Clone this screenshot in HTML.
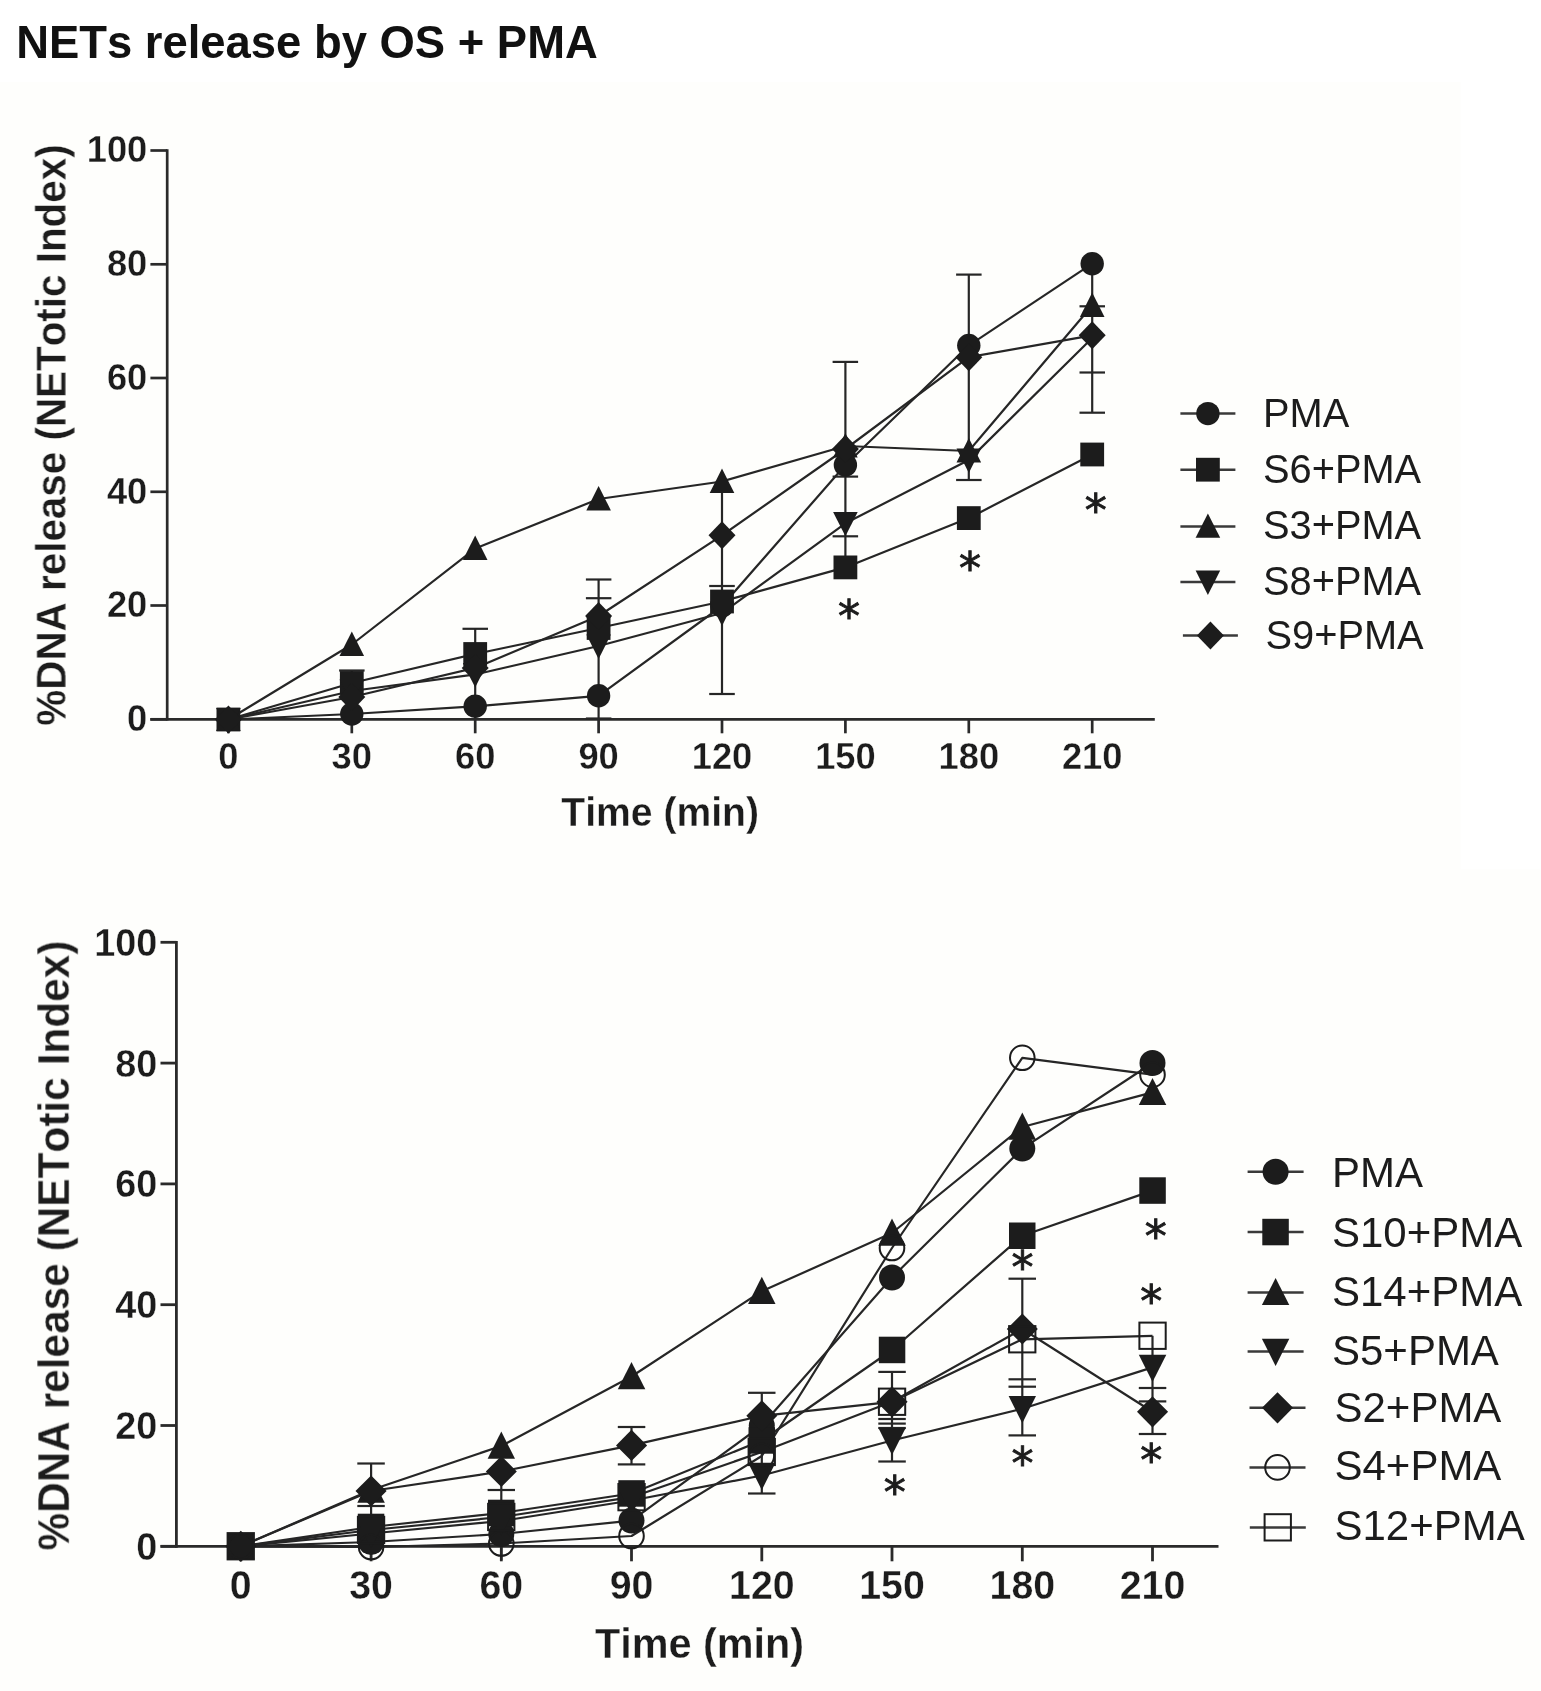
<!DOCTYPE html>
<html lang="en">
<head>
<meta charset="utf-8">
<title>NETs release by OS + PMA</title>
<style>
html, body { margin: 0; padding: 0; background: #ffffff; }
body { width: 1541px; height: 1691px; overflow: hidden; position: relative;
       font-family: "Liberation Sans", sans-serif; }
svg { position: absolute; left: 0; top: 0; display: block; }
#chart-top, #chart-bottom { filter: blur(0.62px); }
#title { filter: blur(0.4px); }
svg text { white-space: pre; font-kerning: none; }
</style>
</head>
<body>
<svg width="1541" height="1691" viewBox="0 0 1541 1691">
<rect x="0" y="0" width="1541" height="1691" fill="#ffffff"/>
<rect x="0" y="82" width="1460.5" height="788" fill="#fefefc"/>
<rect x="0" y="869.5" width="1540.5" height="821.5" fill="#fefefc"/>
<g id="title">
<text transform="translate(16.2 57.5) scale(1 1.03)" font-family='"Liberation Sans", sans-serif' font-size="45.4" font-weight="bold" text-anchor="start" fill="#111111">NETs release by OS + PMA</text>
</g>
<g id="chart-top">
<line x1="167.2" y1="149.2" x2="167.2" y2="720.6" stroke="#2a2a2a" stroke-width="2.7"/>
<line x1="150.3" y1="719.3" x2="1154.8" y2="719.3" stroke="#2a2a2a" stroke-width="2.7"/>
<line x1="150.4" y1="719.3" x2="167.2" y2="719.3" stroke="#2a2a2a" stroke-width="2.7"/>
<text transform="translate(147.3 731.1) scale(1 1.03)" font-family='"Liberation Sans", sans-serif' font-size="36.3" font-weight="bold" text-anchor="end" fill="#1c1c1c" stroke="#fefefc" stroke-width="0.3" stroke-linejoin="round">0</text>
<line x1="150.4" y1="605.5" x2="167.2" y2="605.5" stroke="#2a2a2a" stroke-width="2.7"/>
<text transform="translate(147.3 617.3) scale(1 1.03)" font-family='"Liberation Sans", sans-serif' font-size="36.3" font-weight="bold" text-anchor="end" fill="#1c1c1c" stroke="#fefefc" stroke-width="0.3" stroke-linejoin="round">20</text>
<line x1="150.4" y1="491.8" x2="167.2" y2="491.8" stroke="#2a2a2a" stroke-width="2.7"/>
<text transform="translate(147.3 503.6) scale(1 1.03)" font-family='"Liberation Sans", sans-serif' font-size="36.3" font-weight="bold" text-anchor="end" fill="#1c1c1c" stroke="#fefefc" stroke-width="0.3" stroke-linejoin="round">40</text>
<line x1="150.4" y1="378" x2="167.2" y2="378" stroke="#2a2a2a" stroke-width="2.7"/>
<text transform="translate(147.3 389.8) scale(1 1.03)" font-family='"Liberation Sans", sans-serif' font-size="36.3" font-weight="bold" text-anchor="end" fill="#1c1c1c" stroke="#fefefc" stroke-width="0.3" stroke-linejoin="round">60</text>
<line x1="150.4" y1="264.3" x2="167.2" y2="264.3" stroke="#2a2a2a" stroke-width="2.7"/>
<text transform="translate(147.3 276.1) scale(1 1.03)" font-family='"Liberation Sans", sans-serif' font-size="36.3" font-weight="bold" text-anchor="end" fill="#1c1c1c" stroke="#fefefc" stroke-width="0.3" stroke-linejoin="round">80</text>
<line x1="150.4" y1="150.5" x2="167.2" y2="150.5" stroke="#2a2a2a" stroke-width="2.7"/>
<text transform="translate(147.3 162.3) scale(1 1.03)" font-family='"Liberation Sans", sans-serif' font-size="36.3" font-weight="bold" text-anchor="end" fill="#1c1c1c" stroke="#fefefc" stroke-width="0.3" stroke-linejoin="round">100</text>
<line x1="228.4" y1="719.3" x2="228.4" y2="733.3" stroke="#2a2a2a" stroke-width="2.7"/>
<text transform="translate(228.4 768.6) scale(1 1.03)" font-family='"Liberation Sans", sans-serif' font-size="36.3" font-weight="bold" text-anchor="middle" fill="#1c1c1c" stroke="#fefefc" stroke-width="0.3" stroke-linejoin="round">0</text>
<line x1="351.8" y1="719.3" x2="351.8" y2="733.3" stroke="#2a2a2a" stroke-width="2.7"/>
<text transform="translate(351.8 768.6) scale(1 1.03)" font-family='"Liberation Sans", sans-serif' font-size="36.3" font-weight="bold" text-anchor="middle" fill="#1c1c1c" stroke="#fefefc" stroke-width="0.3" stroke-linejoin="round">30</text>
<line x1="475.2" y1="719.3" x2="475.2" y2="733.3" stroke="#2a2a2a" stroke-width="2.7"/>
<text transform="translate(475.2 768.6) scale(1 1.03)" font-family='"Liberation Sans", sans-serif' font-size="36.3" font-weight="bold" text-anchor="middle" fill="#1c1c1c" stroke="#fefefc" stroke-width="0.3" stroke-linejoin="round">60</text>
<line x1="598.6" y1="719.3" x2="598.6" y2="733.3" stroke="#2a2a2a" stroke-width="2.7"/>
<text transform="translate(598.6 768.6) scale(1 1.03)" font-family='"Liberation Sans", sans-serif' font-size="36.3" font-weight="bold" text-anchor="middle" fill="#1c1c1c" stroke="#fefefc" stroke-width="0.3" stroke-linejoin="round">90</text>
<line x1="722" y1="719.3" x2="722" y2="733.3" stroke="#2a2a2a" stroke-width="2.7"/>
<text transform="translate(722 768.6) scale(1 1.03)" font-family='"Liberation Sans", sans-serif' font-size="36.3" font-weight="bold" text-anchor="middle" fill="#1c1c1c" stroke="#fefefc" stroke-width="0.3" stroke-linejoin="round">120</text>
<line x1="845.4" y1="719.3" x2="845.4" y2="733.3" stroke="#2a2a2a" stroke-width="2.7"/>
<text transform="translate(845.4 768.6) scale(1 1.03)" font-family='"Liberation Sans", sans-serif' font-size="36.3" font-weight="bold" text-anchor="middle" fill="#1c1c1c" stroke="#fefefc" stroke-width="0.3" stroke-linejoin="round">150</text>
<line x1="968.8" y1="719.3" x2="968.8" y2="733.3" stroke="#2a2a2a" stroke-width="2.7"/>
<text transform="translate(968.8 768.6) scale(1 1.03)" font-family='"Liberation Sans", sans-serif' font-size="36.3" font-weight="bold" text-anchor="middle" fill="#1c1c1c" stroke="#fefefc" stroke-width="0.3" stroke-linejoin="round">180</text>
<line x1="1092.2" y1="719.3" x2="1092.2" y2="733.3" stroke="#2a2a2a" stroke-width="2.7"/>
<text transform="translate(1092.2 768.6) scale(1 1.03)" font-family='"Liberation Sans", sans-serif' font-size="36.3" font-weight="bold" text-anchor="middle" fill="#1c1c1c" stroke="#fefefc" stroke-width="0.3" stroke-linejoin="round">210</text>
<text transform="translate(660.2 826.2) scale(1 1.03)" font-family='"Liberation Sans", sans-serif' font-size="39.1" font-weight="bold" text-anchor="middle" fill="#1c1c1c" stroke="#fefefc" stroke-width="0.3" stroke-linejoin="round">Time (min)</text>
<text transform="translate(65.8 435) rotate(-90) scale(1 1.03)" font-family='"Liberation Sans", sans-serif' font-size="40.4" font-weight="bold" text-anchor="middle" fill="#1c1c1c" stroke="#fefefc" stroke-width="0.3" stroke-linejoin="round">%DNA release (NETotic Index)</text>
<polyline points="228.4,719.5 351.8,714 475.2,706.3 598.6,695.8 722,606 845.4,465 968.8,345.5 1092.2,263.7" fill="none" stroke="#262626" stroke-width="2.2" stroke-linejoin="round"/>
<polyline points="228.4,719.5 351.8,683 475.2,654 598.6,628 722,601.5 845.4,567.4 968.8,518.1 1092.2,454.5" fill="none" stroke="#262626" stroke-width="2.2" stroke-linejoin="round"/>
<polyline points="228.4,719.5 351.8,644.5 475.2,548.5 598.6,499 722,481.5 845.4,446 968.8,451 1092.2,305.5" fill="none" stroke="#262626" stroke-width="2.2" stroke-linejoin="round"/>
<polyline points="228.4,719.5 351.8,691 475.2,674.5 598.6,646 722,613 845.4,523.3 968.8,460 1092.2,338" fill="none" stroke="#262626" stroke-width="2.2" stroke-linejoin="round"/>
<polyline points="228.4,719.5 351.8,697 475.2,668 598.6,616 722,535.3 845.4,449 968.8,357.2 1092.2,335.3" fill="none" stroke="#262626" stroke-width="2.2" stroke-linejoin="round"/>
<line x1="351.8" y1="670.5" x2="351.8" y2="700" stroke="#262626" stroke-width="2.2"/>
<line x1="339.1" y1="670.5" x2="364.6" y2="670.5" stroke="#262626" stroke-width="2.2"/>
<line x1="475.2" y1="628.8" x2="475.2" y2="719" stroke="#262626" stroke-width="2.2"/>
<line x1="462.5" y1="628.8" x2="488" y2="628.8" stroke="#262626" stroke-width="2.2"/>
<line x1="598.6" y1="579.5" x2="598.6" y2="718.5" stroke="#262626" stroke-width="2.2"/>
<line x1="585.9" y1="579.5" x2="611.4" y2="579.5" stroke="#262626" stroke-width="2.2"/>
<line x1="585.9" y1="598.2" x2="611.4" y2="598.2" stroke="#262626" stroke-width="2.2"/>
<line x1="585.9" y1="718.5" x2="611.4" y2="718.5" stroke="#262626" stroke-width="2.2"/>
<line x1="722" y1="485" x2="722" y2="694" stroke="#262626" stroke-width="2.2"/>
<line x1="709.2" y1="586" x2="734.8" y2="586" stroke="#262626" stroke-width="2.2"/>
<line x1="709.2" y1="694" x2="734.8" y2="694" stroke="#262626" stroke-width="2.2"/>
<line x1="845.4" y1="361.9" x2="845.4" y2="567" stroke="#262626" stroke-width="2.2"/>
<line x1="832.6" y1="361.9" x2="858.1" y2="361.9" stroke="#262626" stroke-width="2.2"/>
<line x1="832.6" y1="476.6" x2="858.1" y2="476.6" stroke="#262626" stroke-width="2.2"/>
<line x1="832.6" y1="536.3" x2="858.1" y2="536.3" stroke="#262626" stroke-width="2.2"/>
<line x1="968.8" y1="274.6" x2="968.8" y2="480" stroke="#262626" stroke-width="2.2"/>
<line x1="956.1" y1="274.6" x2="981.6" y2="274.6" stroke="#262626" stroke-width="2.2"/>
<line x1="956.1" y1="480" x2="981.6" y2="480" stroke="#262626" stroke-width="2.2"/>
<line x1="1092.2" y1="263.7" x2="1092.2" y2="412.7" stroke="#262626" stroke-width="2.2"/>
<line x1="1079.5" y1="306.3" x2="1105" y2="306.3" stroke="#262626" stroke-width="2.2"/>
<line x1="1079.5" y1="372.5" x2="1105" y2="372.5" stroke="#262626" stroke-width="2.2"/>
<line x1="1079.5" y1="412.7" x2="1105" y2="412.7" stroke="#262626" stroke-width="2.2"/>
<circle cx="228.4" cy="719.5" r="11.7" fill="#1c1c1c"/>
<circle cx="351.8" cy="714" r="11.7" fill="#1c1c1c"/>
<circle cx="475.2" cy="706.3" r="11.7" fill="#1c1c1c"/>
<circle cx="598.6" cy="695.8" r="11.7" fill="#1c1c1c"/>
<circle cx="722" cy="606" r="11.7" fill="#1c1c1c"/>
<circle cx="845.4" cy="465" r="11.7" fill="#1c1c1c"/>
<circle cx="968.8" cy="345.5" r="11.7" fill="#1c1c1c"/>
<circle cx="1092.2" cy="263.7" r="11.7" fill="#1c1c1c"/>
<rect x="216.5" y="707.6" width="23.8" height="23.8" fill="#1c1c1c"/>
<rect x="339.9" y="671.1" width="23.8" height="23.8" fill="#1c1c1c"/>
<rect x="463.3" y="642.1" width="23.8" height="23.8" fill="#1c1c1c"/>
<rect x="586.7" y="616.1" width="23.8" height="23.8" fill="#1c1c1c"/>
<rect x="710.1" y="589.6" width="23.8" height="23.8" fill="#1c1c1c"/>
<rect x="833.5" y="555.5" width="23.8" height="23.8" fill="#1c1c1c"/>
<rect x="956.9" y="506.2" width="23.8" height="23.8" fill="#1c1c1c"/>
<rect x="1080.3" y="442.6" width="23.8" height="23.8" fill="#1c1c1c"/>
<polygon points="228.4,706.5 240.7,730.9 216.1,730.9" fill="#1c1c1c"/>
<polygon points="351.8,631.5 364.1,655.9 339.5,655.9" fill="#1c1c1c"/>
<polygon points="475.2,535.5 487.5,559.9 462.9,559.9" fill="#1c1c1c"/>
<polygon points="598.6,486 610.9,510.4 586.3,510.4" fill="#1c1c1c"/>
<polygon points="722,468.5 734.3,492.9 709.7,492.9" fill="#1c1c1c"/>
<polygon points="845.4,433 857.7,457.4 833.1,457.4" fill="#1c1c1c"/>
<polygon points="968.8,438 981.1,462.4 956.5,462.4" fill="#1c1c1c"/>
<polygon points="1092.2,292.5 1104.5,316.9 1079.9,316.9" fill="#1c1c1c"/>
<polygon points="228.4,732.5 240.7,708.1 216.1,708.1" fill="#1c1c1c"/>
<polygon points="351.8,704 364.1,679.6 339.5,679.6" fill="#1c1c1c"/>
<polygon points="475.2,687.5 487.5,663.1 462.9,663.1" fill="#1c1c1c"/>
<polygon points="598.6,659 610.9,634.6 586.3,634.6" fill="#1c1c1c"/>
<polygon points="722,626 734.3,601.6 709.7,601.6" fill="#1c1c1c"/>
<polygon points="845.4,536.3 857.7,511.9 833.1,511.9" fill="#1c1c1c"/>
<polygon points="968.8,473 981.1,448.6 956.5,448.6" fill="#1c1c1c"/>
<polygon points="228.4,705.5 241.9,719.5 228.4,733.5 214.9,719.5" fill="#1c1c1c"/>
<polygon points="351.8,683 365.3,697 351.8,711 338.3,697" fill="#1c1c1c"/>
<polygon points="475.2,654 488.7,668 475.2,682 461.7,668" fill="#1c1c1c"/>
<polygon points="598.6,602 612.1,616 598.6,630 585.1,616" fill="#1c1c1c"/>
<polygon points="722,521.3 735.5,535.3 722,549.3 708.5,535.3" fill="#1c1c1c"/>
<polygon points="845.4,435 858.9,449 845.4,463 831.9,449" fill="#1c1c1c"/>
<polygon points="968.8,343.2 982.3,357.2 968.8,371.2 955.3,357.2" fill="#1c1c1c"/>
<polygon points="1092.2,321.3 1105.7,335.3 1092.2,349.3 1078.7,335.3" fill="#1c1c1c"/>
<text transform="translate(849 632.4) scale(1 1)" font-family='"DejaVu Sans", sans-serif' font-size="44" text-anchor="middle" fill="#1c1c1c" stroke="#1c1c1c" stroke-width="0.9">*</text>
<text transform="translate(969.9 583.8) scale(1 1)" font-family='"DejaVu Sans", sans-serif' font-size="44" text-anchor="middle" fill="#1c1c1c" stroke="#1c1c1c" stroke-width="0.9">*</text>
<text transform="translate(1095.7 526) scale(1 1)" font-family='"DejaVu Sans", sans-serif' font-size="44" text-anchor="middle" fill="#1c1c1c" stroke="#1c1c1c" stroke-width="0.9">*</text>
<line x1="1180.4" y1="413.6" x2="1235.4" y2="413.6" stroke="#3a3a3a" stroke-width="2.5"/>
<circle cx="1207.9" cy="413.6" r="11.7" fill="#1c1c1c"/>
<text transform="translate(1263 427.1) scale(1 1.03)" font-family='"Liberation Sans", sans-serif' font-size="39.8" text-anchor="start" fill="#1c1c1c">PMA</text>
<line x1="1180.4" y1="469.7" x2="1235.4" y2="469.7" stroke="#3a3a3a" stroke-width="2.5"/>
<rect x="1196" y="457.8" width="23.8" height="23.8" fill="#1c1c1c"/>
<text transform="translate(1263 482.9) scale(1 1.03)" font-family='"Liberation Sans", sans-serif' font-size="39.8" text-anchor="start" fill="#1c1c1c">S6+PMA</text>
<line x1="1180.4" y1="526.4" x2="1235.4" y2="526.4" stroke="#3a3a3a" stroke-width="2.5"/>
<polygon points="1207.9,513.4 1220.2,537.8 1195.6,537.8" fill="#1c1c1c"/>
<text transform="translate(1263 538.7) scale(1 1.03)" font-family='"Liberation Sans", sans-serif' font-size="39.8" text-anchor="start" fill="#1c1c1c">S3+PMA</text>
<line x1="1180.4" y1="582" x2="1235.4" y2="582" stroke="#3a3a3a" stroke-width="2.5"/>
<polygon points="1207.9,595 1220.2,570.6 1195.6,570.6" fill="#1c1c1c"/>
<text transform="translate(1263 594.6) scale(1 1.03)" font-family='"Liberation Sans", sans-serif' font-size="39.8" text-anchor="start" fill="#1c1c1c">S8+PMA</text>
<line x1="1182.9" y1="635.4" x2="1237.9" y2="635.4" stroke="#3a3a3a" stroke-width="2.5"/>
<polygon points="1210.4,621.4 1223.9,635.4 1210.4,649.4 1196.9,635.4" fill="#1c1c1c"/>
<text transform="translate(1265.5 648.6) scale(1 1.03)" font-family='"Liberation Sans", sans-serif' font-size="39.8" text-anchor="start" fill="#1c1c1c">S9+PMA</text>
</g>
<g id="chart-bottom">
<line x1="176.4" y1="941" x2="176.4" y2="1547.7" stroke="#2a2a2a" stroke-width="2.8"/>
<line x1="160.5" y1="1546.3" x2="1218.5" y2="1546.3" stroke="#2a2a2a" stroke-width="2.8"/>
<line x1="160.5" y1="1546.3" x2="176.4" y2="1546.3" stroke="#2a2a2a" stroke-width="2.8"/>
<text transform="translate(157.3 1559.7) scale(1 1.03)" font-family='"Liberation Sans", sans-serif' font-size="37.8" font-weight="bold" text-anchor="end" fill="#1c1c1c" stroke="#fefefc" stroke-width="0.3" stroke-linejoin="round">0</text>
<line x1="160.5" y1="1425.5" x2="176.4" y2="1425.5" stroke="#2a2a2a" stroke-width="2.8"/>
<text transform="translate(157.3 1438.9) scale(1 1.03)" font-family='"Liberation Sans", sans-serif' font-size="37.8" font-weight="bold" text-anchor="end" fill="#1c1c1c" stroke="#fefefc" stroke-width="0.3" stroke-linejoin="round">20</text>
<line x1="160.5" y1="1304.7" x2="176.4" y2="1304.7" stroke="#2a2a2a" stroke-width="2.8"/>
<text transform="translate(157.3 1318.1) scale(1 1.03)" font-family='"Liberation Sans", sans-serif' font-size="37.8" font-weight="bold" text-anchor="end" fill="#1c1c1c" stroke="#fefefc" stroke-width="0.3" stroke-linejoin="round">40</text>
<line x1="160.5" y1="1183.9" x2="176.4" y2="1183.9" stroke="#2a2a2a" stroke-width="2.8"/>
<text transform="translate(157.3 1197.3) scale(1 1.03)" font-family='"Liberation Sans", sans-serif' font-size="37.8" font-weight="bold" text-anchor="end" fill="#1c1c1c" stroke="#fefefc" stroke-width="0.3" stroke-linejoin="round">60</text>
<line x1="160.5" y1="1063.1" x2="176.4" y2="1063.1" stroke="#2a2a2a" stroke-width="2.8"/>
<text transform="translate(157.3 1076.5) scale(1 1.03)" font-family='"Liberation Sans", sans-serif' font-size="37.8" font-weight="bold" text-anchor="end" fill="#1c1c1c" stroke="#fefefc" stroke-width="0.3" stroke-linejoin="round">80</text>
<line x1="160.5" y1="942.3" x2="176.4" y2="942.3" stroke="#2a2a2a" stroke-width="2.8"/>
<text transform="translate(157.3 955.7) scale(1 1.03)" font-family='"Liberation Sans", sans-serif' font-size="37.8" font-weight="bold" text-anchor="end" fill="#1c1c1c" stroke="#fefefc" stroke-width="0.3" stroke-linejoin="round">100</text>
<line x1="240.8" y1="1546.3" x2="240.8" y2="1561.3" stroke="#2a2a2a" stroke-width="2.8"/>
<text transform="translate(240.8 1599) scale(1 1.03)" font-family='"Liberation Sans", sans-serif' font-size="39.3" font-weight="bold" text-anchor="middle" fill="#1c1c1c" stroke="#fefefc" stroke-width="0.3" stroke-linejoin="round">0</text>
<line x1="371.1" y1="1546.3" x2="371.1" y2="1561.3" stroke="#2a2a2a" stroke-width="2.8"/>
<text transform="translate(371.1 1599) scale(1 1.03)" font-family='"Liberation Sans", sans-serif' font-size="39.3" font-weight="bold" text-anchor="middle" fill="#1c1c1c" stroke="#fefefc" stroke-width="0.3" stroke-linejoin="round">30</text>
<line x1="501.3" y1="1546.3" x2="501.3" y2="1561.3" stroke="#2a2a2a" stroke-width="2.8"/>
<text transform="translate(501.3 1599) scale(1 1.03)" font-family='"Liberation Sans", sans-serif' font-size="39.3" font-weight="bold" text-anchor="middle" fill="#1c1c1c" stroke="#fefefc" stroke-width="0.3" stroke-linejoin="round">60</text>
<line x1="631.5" y1="1546.3" x2="631.5" y2="1561.3" stroke="#2a2a2a" stroke-width="2.8"/>
<text transform="translate(631.5 1599) scale(1 1.03)" font-family='"Liberation Sans", sans-serif' font-size="39.3" font-weight="bold" text-anchor="middle" fill="#1c1c1c" stroke="#fefefc" stroke-width="0.3" stroke-linejoin="round">90</text>
<line x1="761.8" y1="1546.3" x2="761.8" y2="1561.3" stroke="#2a2a2a" stroke-width="2.8"/>
<text transform="translate(761.8 1599) scale(1 1.03)" font-family='"Liberation Sans", sans-serif' font-size="39.3" font-weight="bold" text-anchor="middle" fill="#1c1c1c" stroke="#fefefc" stroke-width="0.3" stroke-linejoin="round">120</text>
<line x1="892" y1="1546.3" x2="892" y2="1561.3" stroke="#2a2a2a" stroke-width="2.8"/>
<text transform="translate(892 1599) scale(1 1.03)" font-family='"Liberation Sans", sans-serif' font-size="39.3" font-weight="bold" text-anchor="middle" fill="#1c1c1c" stroke="#fefefc" stroke-width="0.3" stroke-linejoin="round">150</text>
<line x1="1022.3" y1="1546.3" x2="1022.3" y2="1561.3" stroke="#2a2a2a" stroke-width="2.8"/>
<text transform="translate(1022.3 1599) scale(1 1.03)" font-family='"Liberation Sans", sans-serif' font-size="39.3" font-weight="bold" text-anchor="middle" fill="#1c1c1c" stroke="#fefefc" stroke-width="0.3" stroke-linejoin="round">180</text>
<line x1="1152.5" y1="1546.3" x2="1152.5" y2="1561.3" stroke="#2a2a2a" stroke-width="2.8"/>
<text transform="translate(1152.5 1599) scale(1 1.03)" font-family='"Liberation Sans", sans-serif' font-size="39.3" font-weight="bold" text-anchor="middle" fill="#1c1c1c" stroke="#fefefc" stroke-width="0.3" stroke-linejoin="round">210</text>
<text transform="translate(699.5 1658.2) scale(1 1.03)" font-family='"Liberation Sans", sans-serif' font-size="41.4" font-weight="bold" text-anchor="middle" fill="#1c1c1c" stroke="#fefefc" stroke-width="0.3" stroke-linejoin="round">Time (min)</text>
<text transform="translate(69.3 1245.6) rotate(-90) scale(1 1.03)" font-family='"Liberation Sans", sans-serif' font-size="42.4" font-weight="bold" text-anchor="middle" fill="#1c1c1c" stroke="#fefefc" stroke-width="0.3" stroke-linejoin="round">%DNA release (NETotic Index)</text>
<polyline points="240.8,1546.3 371.1,1542 501.3,1534 631.5,1520.6 761.8,1425.5 892,1277.5 1022.3,1148.6 1152.5,1063" fill="none" stroke="#262626" stroke-width="2.2" stroke-linejoin="round"/>
<polyline points="240.8,1546.3 371.1,1527 501.3,1513 631.5,1493.5 761.8,1440.5 892,1350 1022.3,1235.8 1152.5,1190.6" fill="none" stroke="#262626" stroke-width="2.2" stroke-linejoin="round"/>
<polyline points="240.8,1546.3 371.1,1490 501.3,1446 631.5,1376.5 761.8,1291.2 892,1233 1022.3,1127 1152.5,1092.4" fill="none" stroke="#262626" stroke-width="2.2" stroke-linejoin="round"/>
<polyline points="240.8,1546.3 371.1,1533.5 501.3,1521 631.5,1500.5 761.8,1475.5 892,1440.5 1022.3,1408.8 1152.5,1367.4" fill="none" stroke="#262626" stroke-width="2.2" stroke-linejoin="round"/>
<polyline points="240.8,1546.3 371.1,1491 501.3,1471.5 631.5,1445.4 761.8,1415.8 892,1401.8 1022.3,1329 1152.5,1411.8" fill="none" stroke="#262626" stroke-width="2.2" stroke-linejoin="round"/>
<polyline points="240.8,1546.3 371.1,1547 501.3,1543.5 631.5,1536 761.8,1456 892,1248 1022.3,1057.8 1152.5,1074.7" fill="none" stroke="#262626" stroke-width="2.2" stroke-linejoin="round"/>
<polyline points="240.8,1546.3 371.1,1530 501.3,1517 631.5,1497.2 761.8,1452 892,1401.8 1022.3,1339.3 1152.5,1335.8" fill="none" stroke="#262626" stroke-width="2.2" stroke-linejoin="round"/>
<line x1="371.1" y1="1463.5" x2="371.1" y2="1514" stroke="#262626" stroke-width="2.2"/>
<line x1="357.3" y1="1463.5" x2="384.8" y2="1463.5" stroke="#262626" stroke-width="2.2"/>
<line x1="357.3" y1="1506" x2="384.8" y2="1506" stroke="#262626" stroke-width="2.2"/>
<line x1="501.3" y1="1471" x2="501.3" y2="1560" stroke="#262626" stroke-width="2.2"/>
<line x1="487.6" y1="1490" x2="515" y2="1490" stroke="#262626" stroke-width="2.2"/>
<line x1="631.5" y1="1427" x2="631.5" y2="1464.4" stroke="#262626" stroke-width="2.2"/>
<line x1="617.8" y1="1427" x2="645.3" y2="1427" stroke="#262626" stroke-width="2.2"/>
<line x1="617.8" y1="1464.4" x2="645.3" y2="1464.4" stroke="#262626" stroke-width="2.2"/>
<line x1="761.8" y1="1392.8" x2="761.8" y2="1493.5" stroke="#262626" stroke-width="2.2"/>
<line x1="748" y1="1392.8" x2="775.5" y2="1392.8" stroke="#262626" stroke-width="2.2"/>
<line x1="748" y1="1493.5" x2="775.5" y2="1493.5" stroke="#262626" stroke-width="2.2"/>
<line x1="892" y1="1371.9" x2="892" y2="1461.5" stroke="#262626" stroke-width="2.2"/>
<line x1="878.3" y1="1371.9" x2="905.8" y2="1371.9" stroke="#262626" stroke-width="2.2"/>
<line x1="878.3" y1="1419" x2="905.8" y2="1419" stroke="#262626" stroke-width="2.2"/>
<line x1="878.3" y1="1423.6" x2="905.8" y2="1423.6" stroke="#262626" stroke-width="2.2"/>
<line x1="878.3" y1="1428" x2="905.8" y2="1428" stroke="#262626" stroke-width="2.2"/>
<line x1="878.3" y1="1461.5" x2="905.8" y2="1461.5" stroke="#262626" stroke-width="2.2"/>
<line x1="1022.3" y1="1278.7" x2="1022.3" y2="1435.4" stroke="#262626" stroke-width="2.2"/>
<line x1="1008.5" y1="1278.7" x2="1036" y2="1278.7" stroke="#262626" stroke-width="2.2"/>
<line x1="1008.5" y1="1379.3" x2="1036" y2="1379.3" stroke="#262626" stroke-width="2.2"/>
<line x1="1008.5" y1="1386.7" x2="1036" y2="1386.7" stroke="#262626" stroke-width="2.2"/>
<line x1="1008.5" y1="1435.4" x2="1036" y2="1435.4" stroke="#262626" stroke-width="2.2"/>
<line x1="1152.5" y1="1335.8" x2="1152.5" y2="1434" stroke="#262626" stroke-width="2.2"/>
<line x1="1138.8" y1="1388" x2="1166.3" y2="1388" stroke="#262626" stroke-width="2.2"/>
<line x1="1138.8" y1="1401.4" x2="1166.3" y2="1401.4" stroke="#262626" stroke-width="2.2"/>
<line x1="1138.8" y1="1434" x2="1166.3" y2="1434" stroke="#262626" stroke-width="2.2"/>
<circle cx="240.8" cy="1546.3" r="13" fill="#1c1c1c"/>
<circle cx="371.1" cy="1542" r="13" fill="#1c1c1c"/>
<circle cx="501.3" cy="1534" r="13" fill="#1c1c1c"/>
<circle cx="631.5" cy="1520.6" r="13" fill="#1c1c1c"/>
<circle cx="761.8" cy="1425.5" r="13" fill="#1c1c1c"/>
<circle cx="892" cy="1277.5" r="13" fill="#1c1c1c"/>
<circle cx="1022.3" cy="1148.6" r="13" fill="#1c1c1c"/>
<circle cx="1152.5" cy="1063" r="13" fill="#1c1c1c"/>
<rect x="227.5" y="1533" width="26.5" height="26.5" fill="#1c1c1c"/>
<rect x="357.8" y="1513.7" width="26.5" height="26.5" fill="#1c1c1c"/>
<rect x="488" y="1499.7" width="26.5" height="26.5" fill="#1c1c1c"/>
<rect x="618.3" y="1480.2" width="26.5" height="26.5" fill="#1c1c1c"/>
<rect x="748.5" y="1427.2" width="26.5" height="26.5" fill="#1c1c1c"/>
<rect x="878.8" y="1336.7" width="26.5" height="26.5" fill="#1c1c1c"/>
<rect x="1009" y="1222.5" width="26.5" height="26.5" fill="#1c1c1c"/>
<rect x="1139.3" y="1177.3" width="26.5" height="26.5" fill="#1c1c1c"/>
<polygon points="240.8,1531.8 254.5,1559 227.1,1559" fill="#1c1c1c"/>
<polygon points="371.1,1475.5 384.8,1502.7 357.3,1502.7" fill="#1c1c1c"/>
<polygon points="501.3,1431.5 515,1458.7 487.6,1458.7" fill="#1c1c1c"/>
<polygon points="631.5,1362 645.3,1389.2 617.8,1389.2" fill="#1c1c1c"/>
<polygon points="761.8,1276.7 775.5,1303.9 748.1,1303.9" fill="#1c1c1c"/>
<polygon points="892,1218.5 905.8,1245.7 878.3,1245.7" fill="#1c1c1c"/>
<polygon points="1022.3,1112.5 1036,1139.7 1008.6,1139.7" fill="#1c1c1c"/>
<polygon points="1152.5,1077.9 1166.3,1105.1 1138.8,1105.1" fill="#1c1c1c"/>
<polygon points="240.8,1560.8 254.5,1533.6 227.1,1533.6" fill="#1c1c1c"/>
<polygon points="371.1,1548 384.8,1520.8 357.3,1520.8" fill="#1c1c1c"/>
<polygon points="501.3,1535.5 515,1508.3 487.6,1508.3" fill="#1c1c1c"/>
<polygon points="631.5,1515 645.3,1487.8 617.8,1487.8" fill="#1c1c1c"/>
<polygon points="761.8,1490 775.5,1462.8 748.1,1462.8" fill="#1c1c1c"/>
<polygon points="892,1455 905.8,1427.8 878.3,1427.8" fill="#1c1c1c"/>
<polygon points="1022.3,1423.3 1036,1396.1 1008.6,1396.1" fill="#1c1c1c"/>
<polygon points="1152.5,1381.9 1166.3,1354.7 1138.8,1354.7" fill="#1c1c1c"/>
<polygon points="240.8,1530.7 256.3,1546.3 240.8,1561.9 225.3,1546.3" fill="#1c1c1c"/>
<polygon points="371.1,1475.4 386.6,1491 371.1,1506.6 355.5,1491" fill="#1c1c1c"/>
<polygon points="501.3,1455.9 516.8,1471.5 501.3,1487.1 485.8,1471.5" fill="#1c1c1c"/>
<polygon points="631.5,1429.8 647.1,1445.4 631.5,1461 616,1445.4" fill="#1c1c1c"/>
<polygon points="761.8,1400.2 777.3,1415.8 761.8,1431.4 746.3,1415.8" fill="#1c1c1c"/>
<polygon points="892,1386.2 907.6,1401.8 892,1417.4 876.5,1401.8" fill="#1c1c1c"/>
<polygon points="1022.3,1313.4 1037.8,1329 1022.3,1344.6 1006.8,1329" fill="#1c1c1c"/>
<polygon points="1152.5,1396.2 1168.1,1411.8 1152.5,1427.4 1137,1411.8" fill="#1c1c1c"/>
<circle cx="240.8" cy="1546.3" r="12.3" fill="none" stroke="#1c1c1c" stroke-width="2"/>
<circle cx="371.1" cy="1547" r="12.3" fill="none" stroke="#1c1c1c" stroke-width="2"/>
<circle cx="501.3" cy="1543.5" r="12.3" fill="none" stroke="#1c1c1c" stroke-width="2"/>
<circle cx="631.5" cy="1536" r="12.3" fill="none" stroke="#1c1c1c" stroke-width="2"/>
<circle cx="761.8" cy="1456" r="12.3" fill="none" stroke="#1c1c1c" stroke-width="2"/>
<circle cx="892" cy="1248" r="12.3" fill="none" stroke="#1c1c1c" stroke-width="2"/>
<circle cx="1022.3" cy="1057.8" r="12.3" fill="none" stroke="#1c1c1c" stroke-width="2"/>
<circle cx="1152.5" cy="1074.7" r="12.3" fill="none" stroke="#1c1c1c" stroke-width="2"/>
<rect x="227.6" y="1533.1" width="26.3" height="26.3" fill="none" stroke="#1c1c1c" stroke-width="2"/>
<rect x="357.9" y="1516.8" width="26.3" height="26.3" fill="none" stroke="#1c1c1c" stroke-width="2"/>
<rect x="488.1" y="1503.8" width="26.3" height="26.3" fill="none" stroke="#1c1c1c" stroke-width="2"/>
<rect x="618.4" y="1484" width="26.3" height="26.3" fill="none" stroke="#1c1c1c" stroke-width="2"/>
<rect x="748.6" y="1438.8" width="26.3" height="26.3" fill="none" stroke="#1c1c1c" stroke-width="2"/>
<rect x="878.9" y="1388.6" width="26.3" height="26.3" fill="none" stroke="#1c1c1c" stroke-width="2"/>
<rect x="1009.1" y="1326.1" width="26.3" height="26.3" fill="none" stroke="#1c1c1c" stroke-width="2"/>
<rect x="1139.4" y="1322.6" width="26.3" height="26.3" fill="none" stroke="#1c1c1c" stroke-width="2"/>
<text transform="translate(894.8 1508.2) scale(1 1)" font-family='"DejaVu Sans", sans-serif' font-size="44" text-anchor="middle" fill="#1c1c1c" stroke="#1c1c1c" stroke-width="0.9">*</text>
<text transform="translate(1022.6 1283.2) scale(1 1)" font-family='"DejaVu Sans", sans-serif' font-size="44" text-anchor="middle" fill="#1c1c1c" stroke="#1c1c1c" stroke-width="0.9">*</text>
<text transform="translate(1022.6 1479.2) scale(1 1)" font-family='"DejaVu Sans", sans-serif' font-size="44" text-anchor="middle" fill="#1c1c1c" stroke="#1c1c1c" stroke-width="0.9">*</text>
<text transform="translate(1155.7 1251.5) scale(1 1)" font-family='"DejaVu Sans", sans-serif' font-size="44" text-anchor="middle" fill="#1c1c1c" stroke="#1c1c1c" stroke-width="0.9">*</text>
<text transform="translate(1151.2 1316.6) scale(1 1)" font-family='"DejaVu Sans", sans-serif' font-size="44" text-anchor="middle" fill="#1c1c1c" stroke="#1c1c1c" stroke-width="0.9">*</text>
<text transform="translate(1151.2 1476.2) scale(1 1)" font-family='"DejaVu Sans", sans-serif' font-size="44" text-anchor="middle" fill="#1c1c1c" stroke="#1c1c1c" stroke-width="0.9">*</text>
<line x1="1247.6" y1="1171.7" x2="1303.6" y2="1171.7" stroke="#3a3a3a" stroke-width="2.5"/>
<circle cx="1275.6" cy="1171.7" r="13" fill="#1c1c1c"/>
<text transform="translate(1332 1186.6) scale(1 1.03)" font-family='"Liberation Sans", sans-serif' font-size="42" text-anchor="start" fill="#1c1c1c">PMA</text>
<line x1="1247.6" y1="1232.1" x2="1303.6" y2="1232.1" stroke="#3a3a3a" stroke-width="2.5"/>
<rect x="1262.3" y="1218.8" width="26.5" height="26.5" fill="#1c1c1c"/>
<text transform="translate(1332 1246.5) scale(1 1.03)" font-family='"Liberation Sans", sans-serif' font-size="42" text-anchor="start" fill="#1c1c1c">S10+PMA</text>
<line x1="1247.6" y1="1292.4" x2="1303.6" y2="1292.4" stroke="#3a3a3a" stroke-width="2.5"/>
<polygon points="1275.6,1277.9 1289.3,1305.1 1261.9,1305.1" fill="#1c1c1c"/>
<text transform="translate(1332 1305.8) scale(1 1.03)" font-family='"Liberation Sans", sans-serif' font-size="42" text-anchor="start" fill="#1c1c1c">S14+PMA</text>
<line x1="1247.6" y1="1351.4" x2="1303.6" y2="1351.4" stroke="#3a3a3a" stroke-width="2.5"/>
<polygon points="1275.6,1365.9 1289.3,1338.7 1261.9,1338.7" fill="#1c1c1c"/>
<text transform="translate(1332 1364.8) scale(1 1.03)" font-family='"Liberation Sans", sans-serif' font-size="42" text-anchor="start" fill="#1c1c1c">S5+PMA</text>
<line x1="1249.5" y1="1407.8" x2="1305.5" y2="1407.8" stroke="#3a3a3a" stroke-width="2.5"/>
<polygon points="1277.5,1392.2 1293,1407.8 1277.5,1423.4 1262,1407.8" fill="#1c1c1c"/>
<text transform="translate(1334.5 1422) scale(1 1.03)" font-family='"Liberation Sans", sans-serif' font-size="42" text-anchor="start" fill="#1c1c1c">S2+PMA</text>
<line x1="1249.5" y1="1467.4" x2="1305.5" y2="1467.4" stroke="#3a3a3a" stroke-width="2.5"/>
<circle cx="1277.5" cy="1467.4" r="12.3" fill="none" stroke="#1c1c1c" stroke-width="2"/>
<text transform="translate(1334.5 1480.4) scale(1 1.03)" font-family='"Liberation Sans", sans-serif' font-size="42" text-anchor="start" fill="#1c1c1c">S4+PMA</text>
<line x1="1249.8" y1="1527.4" x2="1305.8" y2="1527.4" stroke="#3a3a3a" stroke-width="2.5"/>
<rect x="1264.6" y="1514.2" width="26.3" height="26.3" fill="none" stroke="#1c1c1c" stroke-width="2"/>
<text transform="translate(1334.5 1540.3) scale(1 1.03)" font-family='"Liberation Sans", sans-serif' font-size="42" text-anchor="start" fill="#1c1c1c">S12+PMA</text>
</g>
</svg>
</body>
</html>
